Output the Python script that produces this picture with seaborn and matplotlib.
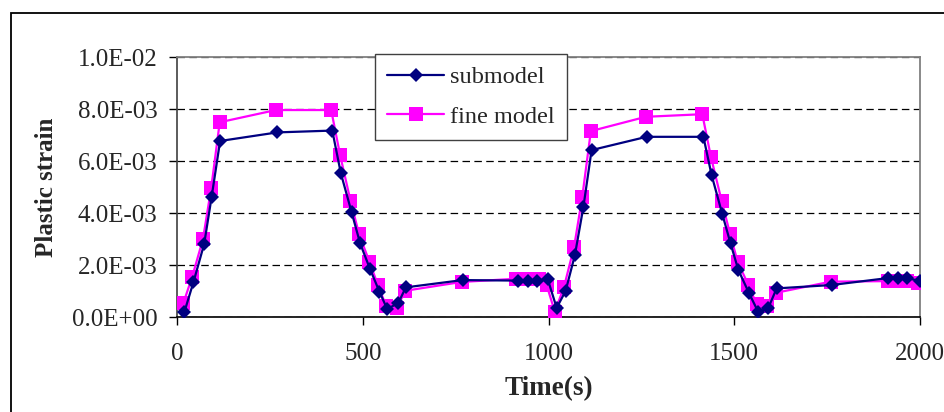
import matplotlib
matplotlib.use("Agg")
import matplotlib.pyplot as plt
import matplotlib.ticker as mticker
from matplotlib.patches import Rectangle
import seaborn as sns
import pandas as pd

# ---- data ----
sub_time = [20, 44, 73, 93, 116, 270, 418, 441, 470, 493, 520, 545, 566, 596, 616,
            769, 918, 945, 970, 998, 1022, 1046, 1071, 1094, 1116, 1264, 1417, 1439,
            1468, 1490, 1511, 1540, 1565, 1592, 1614, 1762, 1915, 1940, 1965, 2000]
sub_strain = [0.20, 1.33, 2.80, 4.60, 6.77, 7.10, 7.17, 5.53, 4.03, 2.83, 1.83, 0.97,
              0.30, 0.55, 1.14, 1.42, 1.40, 1.40, 1.40, 1.45, 0.35, 1.00, 2.38, 4.24,
              6.42, 6.93, 6.93, 5.46, 3.95, 2.83, 1.81, 0.91, 0.18, 0.36, 1.10, 1.23,
              1.50, 1.50, 1.50, 1.38]

fine_time = [17, 41, 70, 92, 115, 266, 415, 439, 467, 490, 518, 541, 563, 591, 615,
             767, 913, 935, 955, 975, 995, 1017, 1042, 1069, 1091, 1114, 1262, 1414,
             1437, 1466, 1489, 1509, 1538, 1560, 1589, 1612, 1760, 1915, 1940, 1965, 1995]
fine_strain = [0.53, 1.55, 3.00, 4.95, 7.49, 7.96, 7.96, 6.23, 4.47, 3.19, 2.12, 1.22,
               0.42, 0.35, 1.01, 1.35, 1.47, 1.47, 1.47, 1.47, 1.23, 0.20, 1.17, 2.70,
               4.63, 7.15, 7.70, 7.80, 6.17, 4.47, 3.18, 2.13, 1.23, 0.50, 0.43, 0.93,
               1.36, 1.38, 1.38, 1.38, 1.30]

series_names = ["submodel", "fine model"]
x_ticks = [0, 500, 1000, 1500, 2000]
y_ticks = [0.0, 0.002, 0.004, 0.006, 0.008, 0.010]
x_label = "Time(s)"
y_label = "Plastic strain"

sub_df = pd.DataFrame({"t": sub_time, "v": [s * 1e-3 for s in sub_strain]})
fine_df = pd.DataFrame({"t": fine_time, "v": [s * 1e-3 for s in fine_strain]})

# ---- style ----
sns.set_theme(style="white")
plt.rcParams["font.family"] = ["Liberation Serif", "DejaVu Serif"]
plt.rcParams["font.size"] = 18

fig = plt.figure(figsize=(9.44, 4.12), dpi=100)
ax = fig.add_axes([177 / 944, 1 - 317 / 412, 743 / 944, 260 / 412])

# outer chart border (partially visible, left/top)
fig.patches.append(Rectangle((11 / 944, -0.1), 1.2, 1 - 12.5 / 412 + 0.1,
                             transform=fig.transFigure, fill=False,
                             edgecolor="black", linewidth=1.3, zorder=0))

# gridlines
ax.set_axisbelow(True)
ax.yaxis.grid(True, color="black", linestyle=(0, (6, 3.5)), linewidth=0.9)
ax.xaxis.grid(False)

sns.lineplot(data=fine_df, x="t", y="v", ax=ax, color="#FF00FF", linewidth=1.6,
             marker="s", markersize=10, markeredgewidth=0, estimator=None,
             sort=False, label=series_names[1], zorder=3)
sns.lineplot(data=sub_df, x="t", y="v", ax=ax, color="#000080", linewidth=1.6,
             marker="D", markersize=7.3, markeredgewidth=0, estimator=None,
             sort=False, label=series_names[0], zorder=4)

ax.set_xlim(0, 2000)
ax.set_ylim(0, 0.010)
ax.set_xticks(x_ticks)
ax.set_yticks(y_ticks)
ax.yaxis.set_major_formatter(mticker.FuncFormatter(lambda v, p: f"{v:.1E}"))
ax.xaxis.set_major_formatter(mticker.FuncFormatter(lambda v, p: f"{int(round(v))}"))

ax.tick_params(axis="x", direction="out", length=6, width=1, color="black",
               pad=13, labelsize=18)
ax.tick_params(axis="y", direction="out", length=6, width=1, color="black",
               pad=8, labelsize=18)
ax.xaxis.set_ticks_position("bottom")
ax.yaxis.set_ticks_position("left")

for side in ["top", "right"]:
    ax.spines[side].set_color("#808080")
    ax.spines[side].set_linewidth(1.3)
ax.spines["left"].set_color("#404040")
ax.spines["left"].set_linewidth(1.2)
ax.spines["bottom"].set_color("black")
ax.spines["bottom"].set_linewidth(1.2)

ax.set_xlabel(x_label, fontsize=19.5, fontweight="bold", labelpad=8)
ax.set_ylabel(y_label, fontsize=18, fontweight="bold", labelpad=10)

# legend (order: submodel, fine model)
handles, labels = ax.get_legend_handles_labels()
order = [labels.index(n) for n in series_names]
leg = ax.legend([handles[i] for i in order], [labels[i] for i in order],
                loc="upper left", bbox_to_anchor=(375 / 944, 1 - 54 / 412),
                bbox_transform=fig.transFigure, borderaxespad=0, frameon=True,
                fancybox=False, shadow=False, framealpha=1, edgecolor="#404040",
                fontsize=17.5, handlelength=2.35, handletextpad=0.25,
                labelspacing=0.72, borderpad=0.5, numpoints=1)
leg.get_frame().set_linewidth(1.0)
leg.set_zorder(10)

fig.savefig("out.png", dpi=100, facecolor="white")
